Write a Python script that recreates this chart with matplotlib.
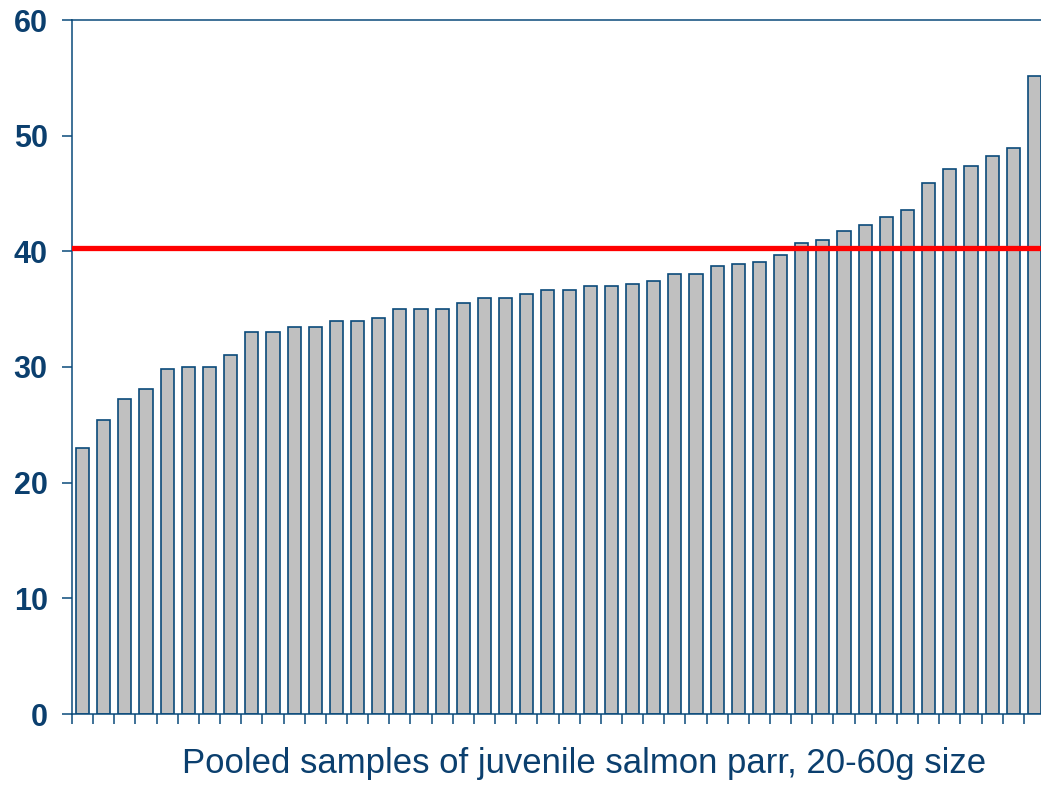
import matplotlib.pyplot as plt
import numpy as np

# bar heights, sorted ascending as in the original
values = [23.0, 25.4, 27.2, 28.1, 29.8, 30.0, 30.0, 31.0, 33.0, 33.0,
          33.5, 33.5, 34.0, 34.0, 34.2, 35.0, 35.0, 35.0, 35.5, 36.0,
          36.0, 36.3, 36.7, 36.7, 37.0, 37.0, 37.2, 37.4, 38.0, 38.0,
          38.7, 38.9, 39.1, 39.7, 40.7, 41.0, 41.8, 42.3, 43.0, 43.6,
          45.9, 47.1, 47.4, 48.2, 48.9, 55.2]
threshold = 40.3
yticks = [0, 10, 20, 30, 40, 50, 60]
xlabel = "Pooled samples of juvenile salmon parr, 20-60g size"

navy = "#0B3F6E"
edge = "#0A4A7A"

W, H = 1041, 787
fig = plt.figure(figsize=(W / 100, H / 100), dpi=100)
ax = fig.add_axes([72 / W, 73 / H, (1045 - 72) / W, (714 - 20) / H])

x = np.arange(len(values))
ax.bar(x, values, width=0.62, color="#C0C0C0", edgecolor=edge, linewidth=1.2, zorder=2)
ax.axhline(threshold, color="#FF0000", linewidth=3.8, zorder=3)

ax.set_xlim(-0.5, len(values) - 0.5)
ax.set_ylim(0, 60)
ax.set_yticks(yticks)
# ticks sit between the bars, starting at the left spine
ax.set_xticks(np.arange(len(values)) - 0.5)
ax.set_xticklabels([])

for s in ["left", "bottom", "top"]:
    ax.spines[s].set_color(edge)
    ax.spines[s].set_linewidth(1.1)
ax.spines["right"].set_visible(False)

ax.tick_params(axis="y", direction="out", length=7.5, width=1.1, color=edge,
               labelcolor=navy, pad=10)
ax.tick_params(axis="x", direction="out", length=7.5, width=1.1, color=edge)
for lab in ax.get_yticklabels():
    lab.set_fontfamily(["Liberation Sans", "DejaVu Sans"])
    lab.set_fontweight("bold")
    lab.set_fontsize(22)

fig.text(584 / W, 1 - 764 / H, xlabel, ha="center", va="center", color=navy,
         fontsize=25, family=["Liberation Sans", "DejaVu Sans"])

fig.savefig("out.png", dpi=100)
